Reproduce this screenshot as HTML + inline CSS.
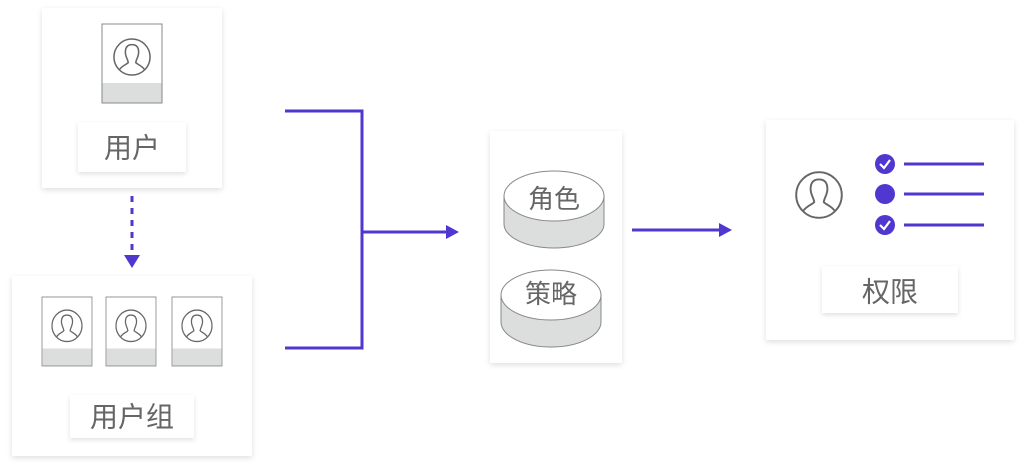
<!DOCTYPE html>
<html><head><meta charset="utf-8"><style>
html,body{margin:0;padding:0;background:#fff;}
svg{display:block}
text{font-family:"Liberation Sans","Noto Sans CJK SC",sans-serif;fill:#666;text-anchor:middle;dominant-baseline:central}
</style></head><body>
<svg width="1026" height="472" viewBox="0 0 1026 472">
<defs>
<filter id="sh" x="-20%" y="-20%" width="140%" height="140%"><feDropShadow dx="0" dy="2" stdDeviation="3" flood-color="#000" flood-opacity="0.13"/></filter>
<filter id="sh2" x="-20%" y="-20%" width="140%" height="140%"><feDropShadow dx="0" dy="2" stdDeviation="2.5" flood-color="#000" flood-opacity="0.12"/></filter>
<symbol id="person" viewBox="-20 -20 40 40">
<circle r="19" fill="none" stroke="#666" stroke-width="1.6"/>
<path d="M-13,13 C-10,9 -6,8 -4,6 C-4,3 -7,0 -7,-5 C-7,-11 -4,-13 0,-13 C4,-13 7,-11 7,-5 C7,0 4,3 4,6 C6,8 10,9 13,13" fill="none" stroke="#666" stroke-width="1.6"/>
</symbol>
<g id="card">
<rect x="0" y="0" width="60" height="79" fill="#fff" stroke="#888" stroke-width="1"/>
<rect x="0.5" y="59" width="59" height="19.5" fill="#dcdddd"/>
<use href="#person" x="11" y="14" width="38" height="38"/>
</g>
</defs>
<rect x="42" y="8" width="180" height="180" fill="#fff" filter="url(#sh)"/>
<use href="#card" x="102" y="24"/>
<rect x="78" y="122" width="108" height="50" fill="#fff" filter="url(#sh2)"/>
<text x="132" y="148" font-size="28">用户</text>

<line x1="132" y1="196" x2="132" y2="256" stroke="#4f37cf" stroke-width="3" stroke-dasharray="6,6"/>
<polygon points="124,255 140,255 132,268" fill="#4f37cf"/>

<rect x="12" y="276" width="240" height="180" fill="#fff" filter="url(#sh)"/>
<g transform="translate(42,297) scale(0.833,0.873)"><use href="#card"/></g>
<g transform="translate(106,297) scale(0.833,0.873)"><use href="#card"/></g>
<g transform="translate(172,297) scale(0.833,0.873)"><use href="#card"/></g>
<rect x="70" y="395" width="124" height="43" fill="#fff" filter="url(#sh2)"/>
<text x="132" y="417" font-size="28">用户组</text>

<path d="M285,111 H362 V348 H285" fill="none" stroke="#4f37cf" stroke-width="3"/>
<line x1="362" y1="232" x2="447" y2="232" stroke="#4f37cf" stroke-width="3"/>
<polygon points="446,225 459,232 446,239" fill="#4f37cf"/>

<rect x="490" y="131" width="132" height="232" fill="#fff" filter="url(#sh)"/>
<g>
<path d="M504,196 V224 A50,24 0 0 0 604,224 V196 Z" fill="#dcdddd" stroke="#888" stroke-width="1"/>
<ellipse cx="554" cy="196" rx="50" ry="25" fill="#fff" stroke="#888" stroke-width="1"/>
<text x="554" y="199" font-size="26">角色</text>
</g>
<g>
<path d="M501,295 V322 A50,25 0 0 0 601,322 V295 Z" fill="#dcdddd" stroke="#888" stroke-width="1"/>
<ellipse cx="551" cy="295" rx="50" ry="25" fill="#fff" stroke="#888" stroke-width="1"/>
<text x="551" y="294" font-size="26">策略</text>
</g>

<line x1="632" y1="230" x2="720" y2="230" stroke="#4f37cf" stroke-width="3"/>
<polygon points="719,223 732,230 719,237" fill="#4f37cf"/>

<rect x="766" y="120" width="248" height="220" fill="#fff" filter="url(#sh)"/>
<use href="#person" x="795" y="171" width="48" height="48"/>
<circle cx="885" cy="164" r="10" fill="#4f37cf"/>
<path d="M880,164 L884,168 L890,160" fill="none" stroke="#fff" stroke-width="2.2"/>
<circle cx="885" cy="194" r="10" fill="#4f37cf"/>
<circle cx="885" cy="225" r="10" fill="#4f37cf"/>
<path d="M880,225 L884,229 L890,221" fill="none" stroke="#fff" stroke-width="2.2"/>
<line x1="904" y1="164" x2="984" y2="164" stroke="#4f37cf" stroke-width="3"/>
<line x1="904" y1="194" x2="984" y2="194" stroke="#4f37cf" stroke-width="3"/>
<line x1="904" y1="225" x2="984" y2="225" stroke="#4f37cf" stroke-width="3"/>
<rect x="822" y="266" width="136" height="47" fill="#fff" filter="url(#sh2)"/>
<text x="890" y="292" font-size="28">权限</text>
</svg>
</body></html>
